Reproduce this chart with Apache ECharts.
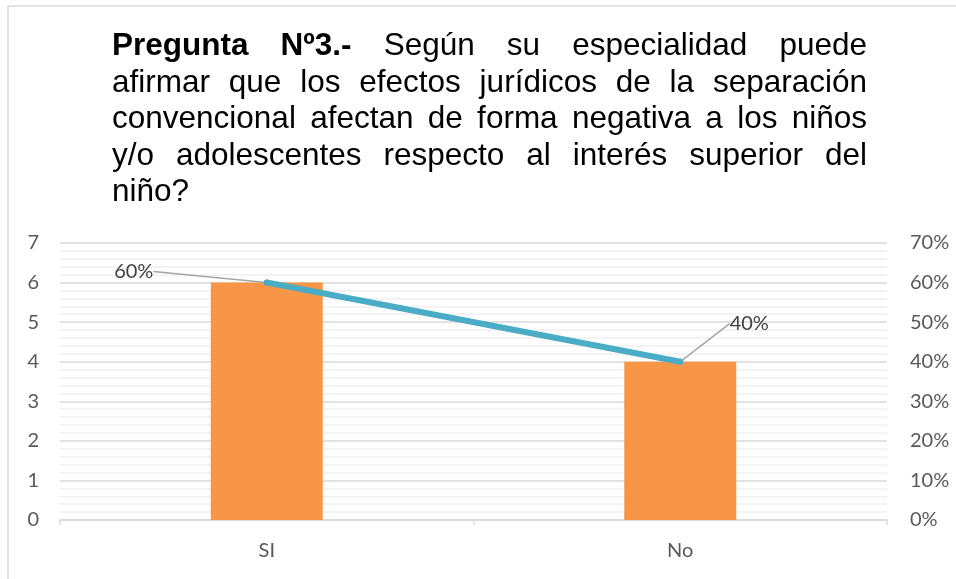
<!DOCTYPE html>
<html>
<head>
<meta charset="utf-8">
<script src="https://cdn.jsdelivr.net/npm/echarts@6/dist/echarts.min.js"></script>
<style>
  html, body { margin: 0; padding: 0; background: #fff; }
  #chart { width: 956px; height: 579px; }
</style>
</head>
<body>
<div id="chart"></div>
<script>
// datos
var categorias = ['SI', 'No'];
var frecuencia = [6, 4];
var porcentaje = [60, 40];
var ticksIzq = [0, 1, 2, 3, 4, 5, 6, 7];
var ticksDer = ['0%', '10%', '20%', '30%', '40%', '50%', '60%', '70%'];

// título justificado (como en Word), cada línea por separado
var lineasTitulo = [
  [['Pregunta', true], ['Nº3.-', true], ['Según', false], ['su', false], ['especialidad', false], ['puede', false]],
  [['afirmar'], ['que'], ['los'], ['efectos'], ['jurídicos'], ['de'], ['la'], ['separación']],
  [['convencional'], ['afectan'], ['de'], ['forma'], ['negativa'], ['a'], ['los'], ['niños']],
  [['y/o'], ['adolescentes'], ['respecto'], ['al'], ['interés'], ['superior'], ['del']],
  [['niño?']]
];

var fuente = '"Liberation Sans", Arial, sans-serif';
var tam = 31.5;
var xIni = 112, xFin = 867, yIni = 46.5, salto = 36.5;

var ctx = document.createElement('canvas').getContext('2d');
function medir(txt, negrita) {
  ctx.font = (negrita ? 'bold ' : '') + tam + 'px ' + fuente;
  return ctx.measureText(txt).width;
}

var graficos = [{
  type: 'rect',
  shape: { x: 8, y: 6, width: 1200, height: 1200 },
  style: { fill: 'none', stroke: '#d9d9d9', lineWidth: 1.5 },
  silent: true
}];

lineasTitulo.forEach(function (linea, i) {
  var anchos = linea.map(function (p) { return medir(p[0], p[1]); });
  var total = anchos.reduce(function (a, b) { return a + b; }, 0);
  var ultima = i === lineasTitulo.length - 1;
  var hueco = (!ultima && linea.length > 1) ? (xFin - xIni - total) / (linea.length - 1) : medir(' ', false);
  var x = xIni;
  linea.forEach(function (p, j) {
    graficos.push({
      type: 'text',
      x: x,
      y: yIni + i * salto,
      style: {
        text: p[0],
        font: (p[1] ? 'bold ' : '') + tam + 'px ' + fuente,
        fill: '#000',
        verticalAlign: 'middle'
      },
      silent: true
    });
    x += anchos[j] + hueco;
  });
});

var myChart = echarts.init(document.getElementById('chart'));
var fuenteEje = 'Lato, "Open Sans", sans-serif';

var option = {
  backgroundColor: '#fff',
  animation: false,
  graphic: graficos,
  grid: { left: 60, right: 69, top: 243, bottom: 59 },
  xAxis: {
    type: 'category',
    data: categorias,
    axisLine: { lineStyle: { color: '#d9d9d9', width: 1.5 } },
    axisTick: { show: true, length: 5, lineStyle: { color: '#d9d9d9', width: 1.5 } },
    axisLabel: { color: '#595959', fontSize: 20, fontFamily: fuenteEje, margin: 21 }
  },
  yAxis: [
    {
      type: 'value',
      min: ticksIzq[0],
      max: ticksIzq[ticksIzq.length - 1],
      interval: 1,
      axisLine: { show: false },
      axisTick: { show: false },
      axisLabel: { color: '#595959', fontSize: 20, fontFamily: fuenteEje, margin: 21 },
      splitLine: { lineStyle: { color: '#d9d9d9', width: 1.5 } },
      minorTick: { show: false, splitNumber: 5 },
      minorSplitLine: { show: true, lineStyle: { color: '#efefef', width: 1.5 } }
    },
    {
      type: 'value',
      min: 0,
      max: 70,
      interval: 10,
      axisLine: { show: false },
      axisTick: { show: false },
      splitLine: { show: false },
      axisLabel: {
        color: '#595959', fontSize: 20, fontFamily: fuenteEje, margin: 23,
        formatter: function (v) { return ticksDer[Math.round(v / 10)]; }
      }
    }
  ],
  series: [
    {
      name: 'Frecuencia',
      type: 'bar',
      data: frecuencia,
      barWidth: 112,
      itemStyle: { color: '#F79646' }
    },
    {
      name: 'Porcentaje',
      type: 'line',
      yAxisIndex: 1,
      data: porcentaje,
      symbol: 'circle',
      symbolSize: 6,
      itemStyle: { color: '#4BACC6' },
      lineStyle: { color: '#4BACC6', width: 6, cap: 'round' },
      label: {
        show: true,
        position: 'top',
        formatter: '{c}%',
        color: '#404040',
        fontSize: 20,
        fontFamily: fuenteEje
      },
      labelLine: { show: true, lineStyle: { color: '#a6a6a6', width: 1.5 } },
      labelLayout: function (params) {
        // desplaza las etiquetas como en el original
        return params.dataIndex === 0 ? { dx: -133, dy: 7 } : { dx: 69, dy: -20 };
      }
    }
  ]
};
option && myChart.setOption(option);
</script>
</body>
</html>
